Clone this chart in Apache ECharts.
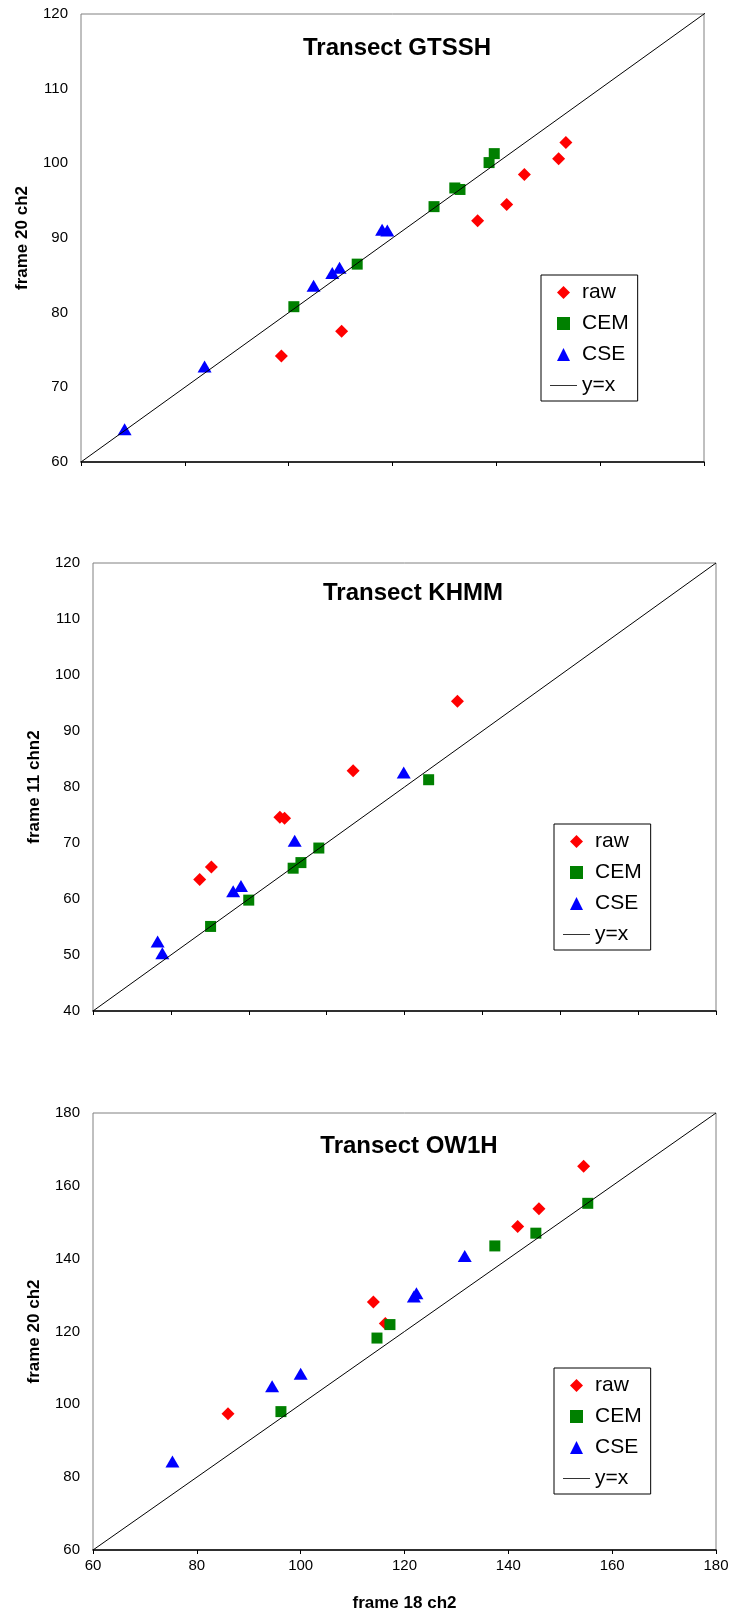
<!DOCTYPE html>
<html>
<head>
<meta charset="utf-8">
<script src="https://cdn.jsdelivr.net/npm/echarts@6/dist/echarts.min.js"></script>
<style>
  html, body { margin: 0; padding: 0; background: #fff; }
  #main { width: 733px; height: 1624px; }
</style>
</head>
<body>
<div id="main"></div>
<script>
// Transect GTSSH (x: frame 18 ch2, y: frame 20 ch2)
const gtRaw = [[79.3, 74.2], [85.1, 77.5], [98.2, 92.3], [101.0, 94.5], [102.7, 98.5], [106.0, 100.6], [106.7, 102.8]]
const gtCem = [[80.5, 80.8], [86.6, 86.5], [94.0, 94.2], [96.0, 96.7], [96.5, 96.5], [99.3, 100.1], [99.8, 101.3]]
const gtCse = [[64.2, 64.4], [71.9, 72.8], [82.4, 83.6], [84.2, 85.3], [84.9, 86.0], [89.0, 91.1], [89.5, 91.0]]
const gtDiag = [60, 120.7]

// Transect KHMM (y: frame 11 chn2)
const khRaw = [[53.7, 63.5], [55.2, 65.7], [64.0, 74.6], [64.6, 74.4], [73.4, 82.9], [86.8, 95.3]]
const khCem = [[55.1, 55.1], [60.0, 59.8], [65.7, 65.5], [66.7, 66.5], [69.0, 69.1], [83.1, 81.3]]
const khCse = [[48.3, 52.4], [48.9, 50.3], [58.0, 61.4], [59.0, 62.3], [65.9, 70.4], [79.9, 82.6]]
const khDiag = [40, 120]

// Transect OW1H
const owRaw = [[86.0, 97.4], [114.0, 128.1], [116.3, 122.2], [141.8, 148.8], [145.9, 153.7], [154.5, 165.4]]
const owCem = [[96.2, 98.0], [114.7, 118.2], [117.2, 121.9], [137.4, 143.5], [145.3, 147.0], [155.3, 155.2]]
const owCse = [[75.3, 84.3], [94.5, 105.0], [100.0, 108.4], [121.8, 129.6], [122.3, 130.5], [131.6, 140.7]]
const owDiag = [60, 180]

const titles = ['Transect GTSSH', 'Transect KHMM', 'Transect OW1H']
const yNames = ['frame 20 ch2', 'frame 11 chn2', 'frame 20 ch2']
const xName = 'frame 18 ch2'

const font = 'Liberation Sans, Arial, sans-serif'
const diamondIcon = 'path://M5,0L10,5L5,10L0,5Z'
const squareIcon = 'path://M0,0L10,0L10,10L0,10Z'
const triangleIcon = 'path://M5,0L10,10L0,10Z'
const lineIcon = 'path://M0,0L27,0L27,1L0,1Z'

// plot boxes
const boxes = [
  { left: 81, top: 14, width: 623, height: 448 },
  { left: 93, top: 563, width: 623, height: 448 },
  { left: 93, top: 1113, width: 623, height: 437 }
]
const ranges = [
  { min: 60, max: 120, step: 10 },
  { min: 40, max: 120, step: 10 },
  { min: 60, max: 180, step: 20 }
]
const titlePos = [[397, 48], [413, 593], [409, 1146]]
const legendPos = [[541, 275], [554, 824], [554, 1368]]

function scatter(name, data, i, symbol, size, color) {
  return {
    type: 'scatter',
    name: name,
    xAxisIndex: i,
    yAxisIndex: i,
    data: data,
    symbol: symbol,
    symbolSize: size,
    itemStyle: { color: color, opacity: 1 }
  }
}

// the y=x reference line
function diag(range, i) {
  return {
    type: 'line',
    name: 'y=x',
    xAxisIndex: i,
    yAxisIndex: i,
    data: range.map(v => [v, v]),
    symbol: 'none',
    clip: false,
    itemStyle: { color: '#000' },
    lineStyle: { color: '#000', width: 1 },
    silent: true
  }
}

const sets = [
  [gtRaw, gtCem, gtCse, gtDiag],
  [khRaw, khCem, khCse, khDiag],
  [owRaw, owCem, owCse, owDiag]
]

const series = []
sets.forEach(function (s, i) {
  series.push(scatter('raw', s[0], i, 'diamond', [13, 13], '#ff0000'))
  series.push(scatter('CEM', s[1], i, 'rect', [11, 11], '#008000'))
  series.push(scatter('CSE', s[2], i, 'triangle', [14, 12], '#0000ff'))
  series.push(diag(s[3], i))
})

const chart = echarts.init(document.getElementById('main'))
chart.setOption({
  backgroundColor: '#fff',
  animation: false,
  title: titles.map(function (t, i) {
    return {
      text: t,
      left: titlePos[i][0],
      top: titlePos[i][1],
      padding: 0,
      textAlign: 'center',
      textVerticalAlign: 'middle',
      textStyle: { fontFamily: font, fontSize: 24, fontWeight: 'bold', color: '#000' }
    }
  }),
  legend: legendPos.map(function (p) {
    return {
      orient: 'vertical',
      left: p[0],
      top: p[1],
      padding: [7, 9, 5, 9],
      itemGap: 10,
      itemWidth: 27,
      itemHeight: 13,
      borderColor: '#000',
      borderWidth: 1,
      backgroundColor: '#fff',
      selectedMode: false,
      textStyle: { fontFamily: font, fontSize: 21, lineHeight: 21, color: '#000' },
      data: [
        { name: 'raw', icon: diamondIcon },
        { name: 'CEM', icon: squareIcon },
        { name: 'CSE', icon: triangleIcon },
        { name: 'y=x', icon: lineIcon, itemStyle: { color: '#333' } }
      ]
    }
  }),
  grid: boxes.map(function (b) {
    return {
      left: b.left,
      top: b.top,
      width: b.width,
      height: b.height,
      show: true,
      borderColor: '#808080',
      borderWidth: 1,
      backgroundColor: '#fff'
    }
  }),
  xAxis: ranges.map(function (r, i) {
    return {
      type: 'value',
      gridIndex: i,
      min: r.min,
      max: r.max,
      interval: r.step,
      name: i === 2 ? xName : '',
      nameLocation: 'middle',
      nameGap: 45,
      nameTextStyle: { fontFamily: font, fontSize: 17, fontWeight: 'bold', color: '#000' },
      axisLine: { show: true, onZero: false, lineStyle: { color: '#000', width: 1.5 } },
      axisTick: { show: true, length: 4, lineStyle: { color: '#000' } },
      axisLabel: { show: i === 2, fontFamily: font, fontSize: 15, color: '#000', margin: 8 },
      splitLine: { show: false }
    }
  }),
  yAxis: ranges.map(function (r, i) {
    return {
      type: 'value',
      gridIndex: i,
      min: r.min,
      max: r.max,
      interval: r.step,
      name: yNames[i],
      nameLocation: 'middle',
      nameGap: 50,
      nameTextStyle: { fontFamily: font, fontSize: 17, fontWeight: 'bold', color: '#000' },
      axisLine: { show: false },
      axisTick: { show: false },
      axisLabel: { fontFamily: font, fontSize: 15, color: '#000', margin: 13 },
      splitLine: { show: false }
    }
  }),
  series: series
})
</script>
</body>
</html>
